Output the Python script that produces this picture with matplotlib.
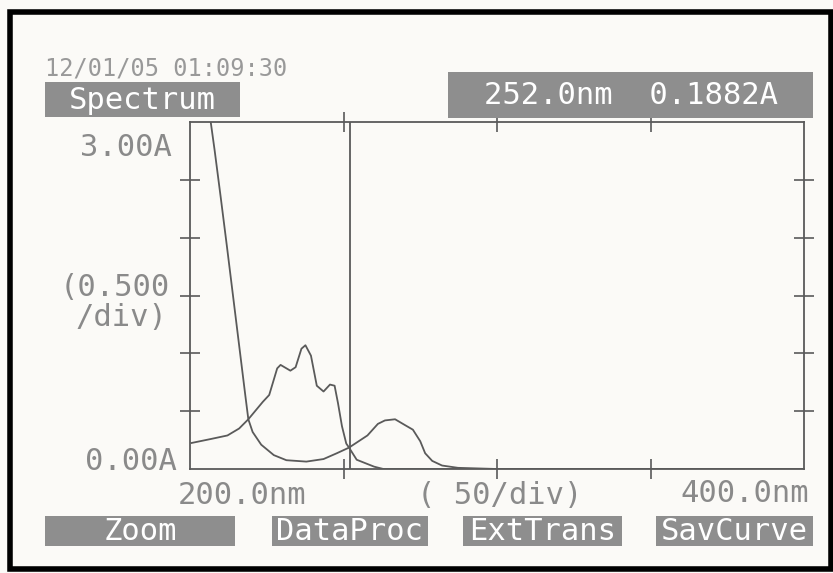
import numpy as np
import matplotlib
matplotlib.use("Agg")
import matplotlib.pyplot as plt
from matplotlib.patches import Rectangle

# spectra (wavelength nm, absorbance A)
wl_a = [205.0, 206.8, 208.0, 210.0, 212.0, 214.0, 216.0, 218.0,
        219.0, 220.4, 223.2, 227.3, 231.4, 237.9, 243.5, 247.8, 251.8, 257.8,
        261.2, 263.5, 266.8, 270.0, 272.6, 275.0, 276.6, 278.9, 282.1, 287.3,
        300.0, 350.0, 400.0]
abs_a = [3.3, 2.99, 2.76, 2.35, 1.93, 1.50, 1.07, 0.64,
         0.43, 0.32, 0.21, 0.12, 0.076, 0.064, 0.086, 0.136, 0.185, 0.29,
         0.39, 0.42, 0.43, 0.38, 0.34, 0.24, 0.136, 0.07, 0.03, 0.01,
         0.0, 0.0, 0.0]

wl_b = [200.5, 206.9, 212.2, 216.0, 219.0, 223.7, 225.8, 228.4, 229.5, 232.7, 234.4,
        236.3, 237.6, 239.4, 241.3, 243.5, 245.6, 247.1, 248.2, 249.5, 250.9,
        251.8, 254.3, 260.0, 263.0, 300.0, 350.0, 400.0]
abs_b = [0.225, 0.26, 0.29, 0.35, 0.43, 0.58, 0.64, 0.87, 0.90, 0.85, 0.88,
         1.04, 1.07, 0.98, 0.72, 0.67, 0.73, 0.72, 0.57, 0.37, 0.22,
         0.185, 0.08, 0.02, 0.0, 0.0, 0.0, 0.0]

cursor_nm = 252.0
cursor_abs = 0.1882
x_ticks = [250, 300, 350]
y_ticks = [0.5, 1.0, 1.5, 2.0, 2.5]
buttons = ["Zoom", "DataProc", "ExtTrans", "SavCurve"]

W, H = 833, 573
fig = plt.figure(figsize=(W / 100, H / 100), dpi=100)
fig.patch.set_facecolor("#fbfaf7")


def px(x, y):
    return x / W, 1 - y / H


ink = "#5a5a5a"
txt = "#8a8a8a"
boxc = "#8e8e8e"
mono = "DejaVu Sans Mono"

ax = fig.add_axes([190 / W, 1 - 469 / H, 614 / W, 347 / H])
ax.set_facecolor("none")
ax.plot(wl_a, abs_a, color=ink, lw=1.3)
ax.plot(wl_b, abs_b, color=ink, lw=1.3)
ax.axvline(cursor_nm, color=ink, lw=1.3)
ax.set_xlim(200, 400)
ax.set_ylim(0, 3)
ax.set_xticks(x_ticks)
ax.set_yticks(y_ticks)
ax.tick_params(direction="inout", length=14, width=1.2, color=ink,
               top=True, right=True, labelbottom=False, labelleft=False)
for s in ax.spines.values():
    s.set_color(ink)
    s.set_linewidth(1.3)

# outer frame of the scan
fig.add_artist(Rectangle(px(10, 569), 821 / W, 557 / H, transform=fig.transFigure,
                         fill=False, ec="black", lw=4))


def label(x, y, s, size=22, ha="left", color=txt):
    fig.text(*px(x, y), s, fontsize=size, family=mono, color=color,
             ha=ha, va="center")


def boxed(x0, x1, y0, y1, s, size=22):
    fig.add_artist(Rectangle(px(x0, y1), (x1 - x0) / W, (y1 - y0) / H,
                             transform=fig.transFigure, color=boxc, lw=0))
    fig.text(*px((x0 + x1) / 2, (y0 + y1) / 2 + 1), s, fontsize=size,
             family=mono, color="white", ha="center", va="center")


label(45, 68, "12/01/05 01:09:30", size=17, color="#999999")
boxed(45, 240, 82, 117, "Spectrum")
boxed(448, 813, 72, 118, f"{cursor_nm:.1f}nm  {cursor_abs:.4f}A")

label(172, 147, "3.00A", ha="right")
label(60, 287, "(0.500")
label(75, 318, "/div)")
label(177, 462, "0.00A", ha="right")
label(178, 495, "200.0nm")
label(500, 495, "( 50/div)", ha="center")
label(809, 493, "400.0nm", ha="right")

for (x0, x1), b in zip([(45, 235), (272, 428), (463, 622), (656, 813)], buttons):
    boxed(x0, x1, 516, 546, b)

fig.savefig("out.png", dpi=100, facecolor=fig.get_facecolor())
